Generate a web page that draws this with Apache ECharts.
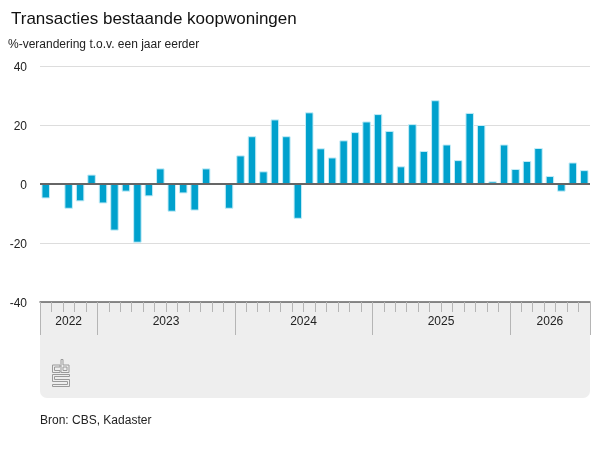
<!DOCTYPE html>
<html>
<head>
<meta charset="utf-8">
<script src="https://cdn.jsdelivr.net/npm/echarts@6/dist/echarts.min.js"></script>
<style>
  html, body { margin: 0; padding: 0; background: #fff; }
  #chart { width: 600px; height: 450px; }
</style>
</head>
<body>
<div id="chart"></div>
<script>
const MONTHS = [
  '2022-08', '2022-09', '2022-10', '2022-11', '2022-12',
  '2023-01', '2023-02', '2023-03', '2023-04', '2023-05', '2023-06',
  '2023-07', '2023-08', '2023-09', '2023-10', '2023-11', '2023-12',
  '2024-01', '2024-02', '2024-03', '2024-04', '2024-05', '2024-06',
  '2024-07', '2024-08', '2024-09', '2024-10', '2024-11', '2024-12',
  '2025-01', '2025-02', '2025-03', '2025-04', '2025-05', '2025-06',
  '2025-07', '2025-08', '2025-09', '2025-10', '2025-11', '2025-12',
  '2026-01', '2026-02', '2026-03', '2026-04', '2026-05', '2026-06',
  '2026-07'
];

// %-verandering t.o.v. een jaar eerder (sep 2022 ontbreekt)
const VALUES = [
  -4.9, null, -8.4, -5.9, 3.2,
  -6.6, -15.8, -2.6, -19.9, -4.2, 5.3,
  -9.4, -3.2, -9.0, 5.3, 0.3, -8.4,
  9.7, 16.2, 4.3, 21.9, 16.2, -11.8,
  24.3, 12.1, 9.0, 14.8, 17.6, 21.2,
  23.7, 18.0, 6.0, 20.3, 11.2, 28.4,
  13.4, 8.1, 24.1, 20.0, 0.9, 13.4,
  5.1, 7.8, 12.2, 2.7, -2.6, 7.3,
  4.7
];

const Y_TICKS = [-40, -20, 0, 20, 40];

// index of the month that carries the year label; 12-month years sit between two months
const YEAR_LABEL_AT = { 2: 'odd', 10: 'even', 22: 'even', 34: 'even', 44: 'odd' };

const GRID_LEFT = 40;
const GRID_RIGHT = 10;
const GRID_TOP = 66;
const GRID_BOTTOM_Y = 302;
const FONT = '"Liberation Sans", Arial, sans-serif';

const chart = echarts.init(document.getElementById('chart'), null, { renderer: 'canvas' });

const slot = (600 - GRID_LEFT - GRID_RIGHT) / MONTHS.length;

// cbs-logo, outline style
const logo = [
  [[60, 365], [52.5, 365], [52.5, 372.5], [60, 372.5], [60, 370.5], [54.5, 370.5], [54.5, 367], [60, 367]],
  [[61, 359.5], [63, 359.5], [63, 365], [69, 365], [69, 372.5], [61, 372.5]],
  [[63, 367], [67, 367], [67, 370.5], [63, 370.5]],
  [[52.5, 374.5], [69.5, 374.5], [69.5, 376.5], [54.5, 376.5], [54.5, 379.5], [69.5, 379.5],
   [69.5, 386.5], [52.5, 386.5], [52.5, 384.5], [67.5, 384.5], [67.5, 381.5], [52.5, 381.5]]
];

chart.setOption({
  animation: false,
  textStyle: { fontFamily: FONT },
  title: [
    {
      text: 'Transacties bestaande koopwoningen',
      left: 11, top: 11, padding: 0,
      textStyle: { fontSize: 17, fontWeight: 'normal', color: '#111', fontFamily: FONT }
    },
    {
      text: '%-verandering t.o.v. een jaar eerder',
      left: 8, top: 39, padding: 0,
      textStyle: { fontSize: 12, fontWeight: 'normal', color: '#222', fontFamily: FONT }
    },
    {
      text: 'Bron: CBS, Kadaster',
      left: 40, top: 415, padding: 0,
      textStyle: { fontSize: 12, fontWeight: 'normal', color: '#222', fontFamily: FONT }
    }
  ],
  graphic: [
    {
      type: 'rect',
      z: -10,
      shape: { x: GRID_LEFT, y: GRID_BOTTOM_Y, width: 600 - GRID_LEFT - GRID_RIGHT, height: 96, r: [0, 0, 7, 7] },
      style: { fill: '#eeeeee' }
    },
    ...logo.map((pts) => ({
      type: 'polygon',
      z: 5,
      shape: { points: pts },
      style: { stroke: '#9a9a9a', lineWidth: 1, fill: null }
    }))
  ],
  grid: {
    left: GRID_LEFT,
    right: GRID_RIGHT,
    top: GRID_TOP,
    height: GRID_BOTTOM_Y - GRID_TOP
  },
  xAxis: [
    {
      type: 'category',
      data: MONTHS,
      position: 'bottom',
      boundaryGap: true,
      axisLine: { onZero: false, lineStyle: { color: '#666', width: 1.5 } },
      axisTick: { show: true, interval: 0, length: 10, lineStyle: { color: '#b5b5b5' } },
      axisLabel: { show: false },
      splitLine: { show: false }
    },
    {
      type: 'category',
      data: MONTHS,
      position: 'bottom',
      boundaryGap: true,
      axisLine: { show: false, onZero: false },
      axisTick: {
        show: true,
        length: 33,
        interval: (index, value) => index === 0 || value.slice(5) === '01',
        lineStyle: { color: '#b5b5b5' }
      },
      axisLabel: {
        show: true,
        margin: 14,
        interval: (index) => YEAR_LABEL_AT[index] !== undefined,
        formatter: (value, index) => `{${YEAR_LABEL_AT[index] || 'odd'}|${value.slice(0, 4)}}`,
        rich: {
          odd: { fontSize: 12, color: '#222', fontFamily: FONT },
          even: { fontSize: 12, color: '#222', fontFamily: FONT, padding: [0, 0, 0, slot] }
        }
      },
      splitLine: { show: false }
    }
  ],
  yAxis: {
    type: 'value',
    min: Y_TICKS[0],
    max: Y_TICKS[Y_TICKS.length - 1],
    interval: 20,
    axisLine: { show: false },
    axisTick: { show: false },
    axisLabel: {
      margin: 13,
      formatter: (value) => `{v|${value}}`,
      rich: { v: { color: '#222', fontSize: 12, fontFamily: FONT, padding: [4, 0, 0, 0] } }
    },
    splitLine: { lineStyle: { color: '#dddddd', width: 1 } }
  },
  series: [
    {
      type: 'bar',
      xAxisIndex: 0,
      data: VALUES,
      barWidth: 8.5,
      itemStyle: { color: '#00a1cd', borderColor: '#c4ecf7', borderWidth: 1 },
      markLine: {
        silent: true,
        symbol: ['none', 'none'],
        label: { show: false },
        lineStyle: { color: '#666', width: 2, type: 'solid' },
        data: [{ yAxis: 0 }]
      }
    }
  ]
});
</script>
</body>
</html>
